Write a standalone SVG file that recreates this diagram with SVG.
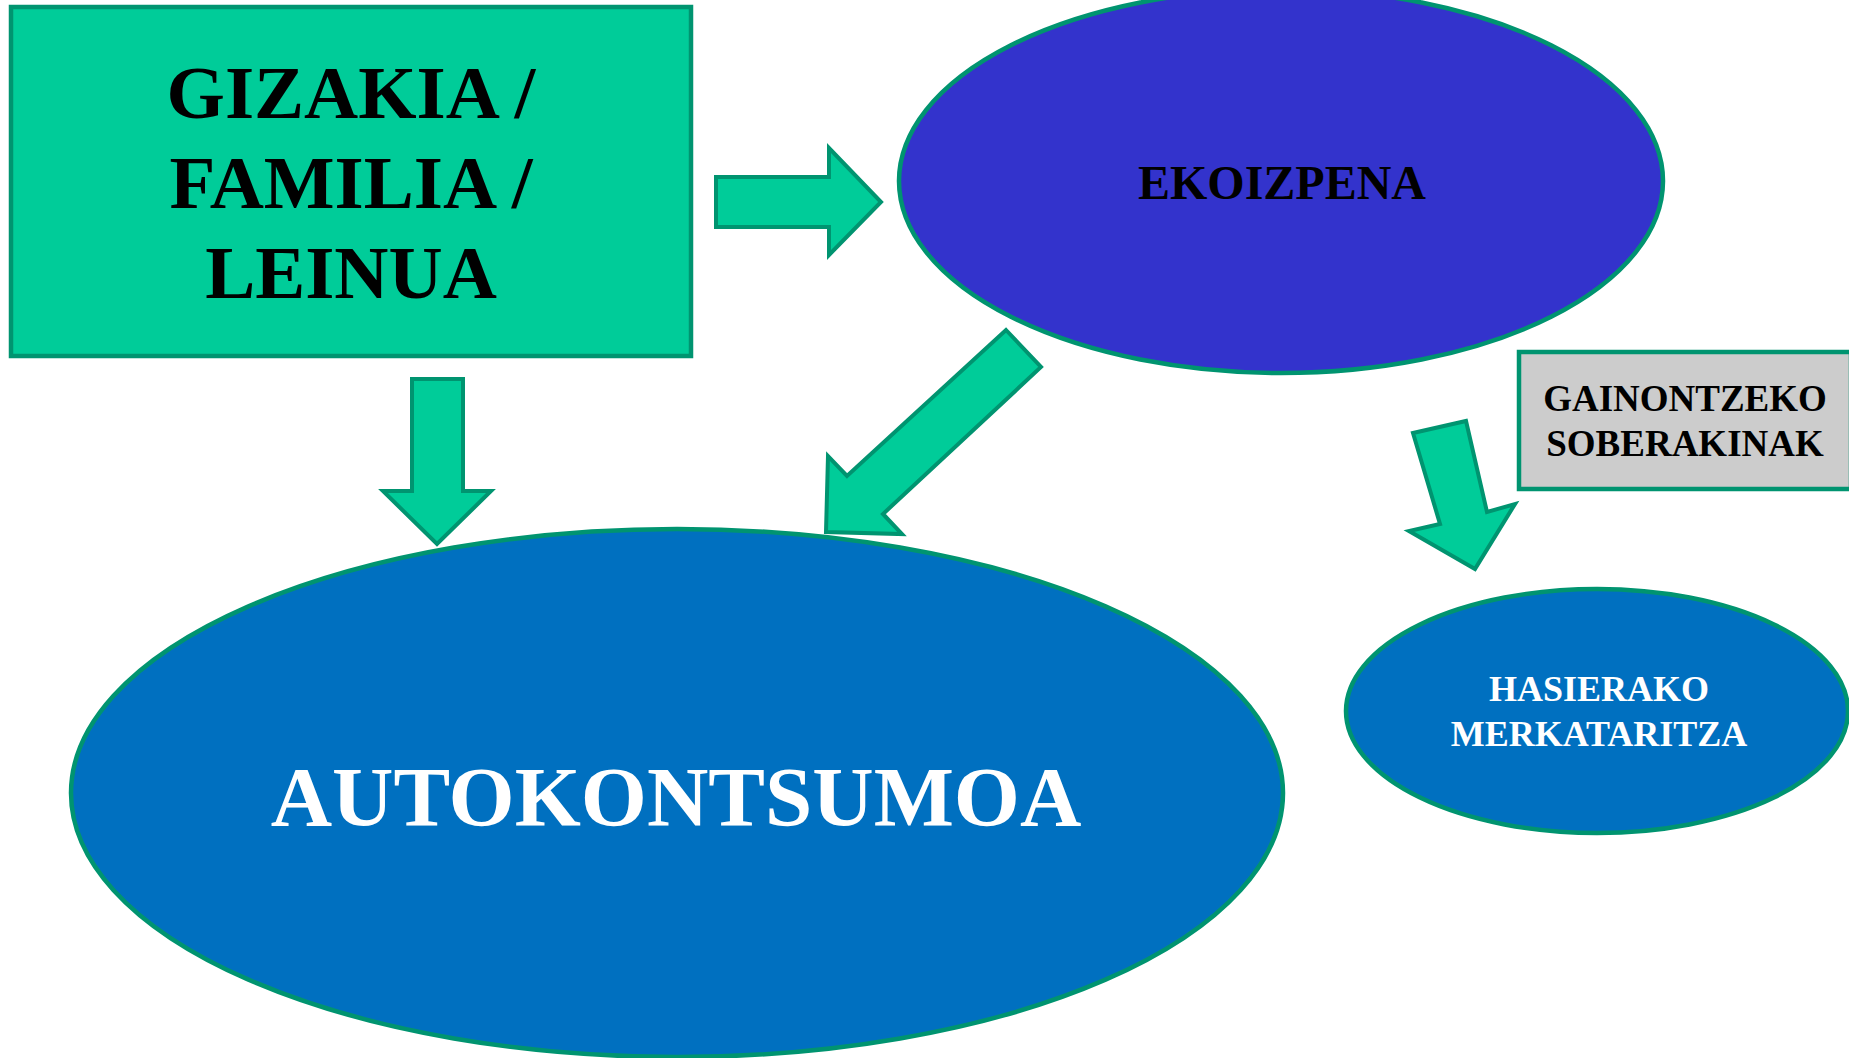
<svg xmlns="http://www.w3.org/2000/svg" width="1849" height="1058" viewBox="0 0 1849 1058">
<style>
.t{font-family:"Liberation Serif","Times New Roman",serif;font-weight:bold;text-anchor:middle}
.arrow{fill:#00CC99;stroke:#009470;stroke-width:4;stroke-linejoin:miter}
.edge{stroke:#009470;stroke-width:4.5}
</style>
<rect width="1849" height="1058" fill="#FFFFFF"/>
<g id="gizakia">
<rect x="11" y="7" width="680" height="349" fill="#00CC99" class="edge"/>
<text class="t" x="351" y="118" font-size="75" fill="#000">GIZAKIA /</text>
<text class="t" x="351" y="208" font-size="75" fill="#000">FAMILIA /</text>
<text class="t" x="351" y="298" font-size="75" fill="#000">LEINUA</text>
</g>
<g id="ekoizpena">
<ellipse cx="1281" cy="181" rx="382" ry="192" fill="#3333CC" class="edge"/>
<text class="t" x="1282" y="199" font-size="48" fill="#000">EKOIZPENA</text>
</g>
<g id="autokontsumoa">
<ellipse cx="677" cy="793" rx="606" ry="264" fill="#0070C0" class="edge"/>
<text class="t" x="676" y="826" font-size="85" fill="#FFF">AUTOKONTSUMOA</text>
</g>
<g id="gainontzeko">
<rect x="1519" y="352" width="332" height="137" fill="#CCCCCC" class="edge"/>
<text class="t" x="1685" y="411" font-size="37" fill="#000">GAINONTZEKO</text>
<text class="t" x="1685" y="456" font-size="37" fill="#000">SOBERAKINAK</text>
</g>
<g id="hasierako">
<ellipse cx="1597" cy="711" rx="251" ry="122" fill="#0070C0" class="edge"/>
<text class="t" x="1599" y="701" font-size="36" fill="#FFF">HASIERAKO</text>
<text class="t" x="1599" y="746" font-size="36" fill="#FFF">MERKATARITZA</text>
</g>
<g id="connectors">
<polygon class="arrow" points="716,177 829,177 829,148 881,202 829,255 829,227 716,227"/>
<polygon class="arrow" points="412,379 463,379 463,491 491,491 437,544 383,491 412,491"/>
<polygon class="arrow" points="1006,330 1041,367 883,514 902,534 826,532 828,456 847,476"/>
<polygon class="arrow" points="1413,433 1466,421 1487,512 1515,504 1475,569 1409,531 1440,524"/>
</g>
</svg>
